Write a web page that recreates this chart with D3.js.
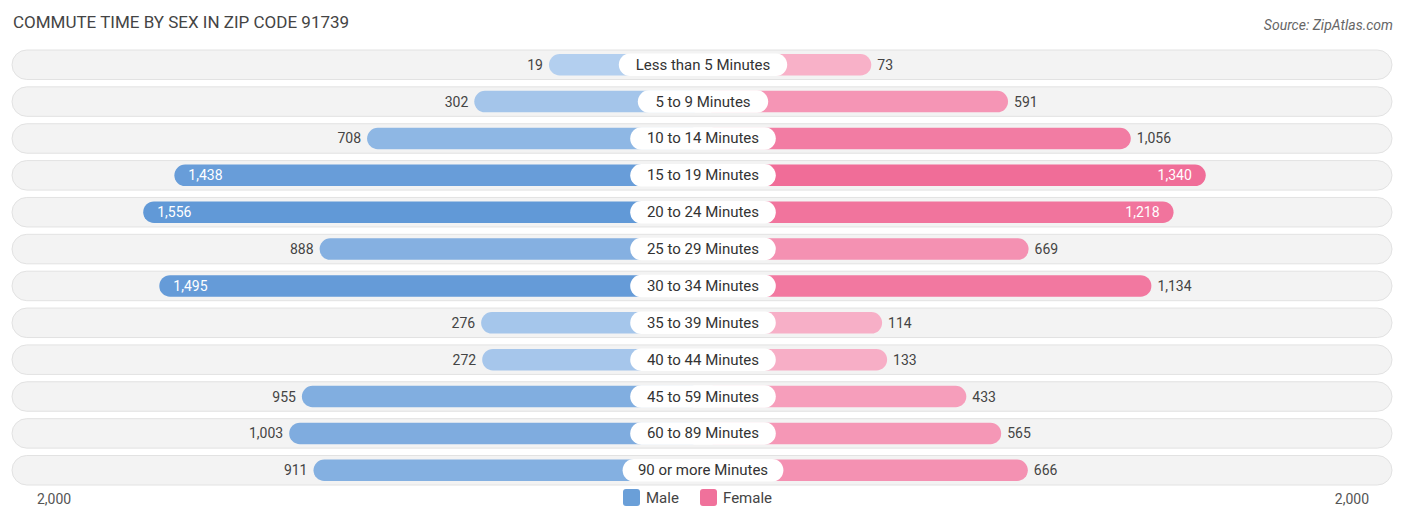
<!DOCTYPE html>
<html><head><meta charset="utf-8">
<script src="https://cdn.jsdelivr.net/npm/d3@7"></script>
<style>body{margin:0;background:#fff;font-family:Roboto,"Open Sans",sans-serif}</style>
</head><body><svg id="c" width="1406" height="523"></svg>
<script>
const categories = ["Less than 5 Minutes","5 to 9 Minutes","10 to 14 Minutes","15 to 19 Minutes","20 to 24 Minutes","25 to 29 Minutes","30 to 34 Minutes","35 to 39 Minutes","40 to 44 Minutes","45 to 59 Minutes","60 to 89 Minutes","90 or more Minutes"]
const male = [19,302,708,1438,1556,888,1495,276,272,955,1003,911]
const female = [73,591,1056,1340,1218,669,1134,114,133,433,565,666]
const axisMax = 2000

const svg = d3.select("#c")
const cx = 703, pad = 149
const len = d3.scaleLinear().domain([0, axisMax]).range([pad, 677])
const y = d3.scaleBand().domain(categories).range([50, 485]).paddingInner(0.2)
const maleCol = d3.scaleLinear().domain([0, 1600]).range(["#b4d0ef", "#5f97d6"])
const femCol = d3.scaleLinear().domain([0, 1400]).range(["#f8b5cb", "#f06a96"])

svg.append("text").attr("x", 13).attr("y", 28).attr("font-size", 17).attr("fill", "#444")
  .text("COMMUTE TIME BY SEX IN ZIP CODE 91739")
svg.append("text").attr("x", 1393).attr("y", 30).attr("text-anchor", "end").attr("font-size", 14)
  .attr("font-style", "italic").attr("fill", "#666").text("Source: ZipAtlas.com")

const row = svg.selectAll("g.row").data(categories).enter().append("g")
  .attr("transform", d => `translate(0,${y(d)})`)
const h = y.bandwidth()
row.append("rect").attr("x", 12).attr("width", 1380).attr("height", h).attr("rx", h / 2)
  .attr("fill", "#f3f3f3").attr("stroke", "#e2e2e2")
const bh = h - 8
row.append("rect").attr("x", (d, i) => cx - len(male[i])).attr("y", 4)
  .attr("width", (d, i) => len(male[i])).attr("height", bh).attr("rx", bh / 2)
  .attr("fill", (d, i) => maleCol(male[i]))
row.append("rect").attr("x", cx).attr("y", 4)
  .attr("width", (d, i) => len(female[i])).attr("height", bh).attr("rx", bh / 2)
  .attr("fill", (d, i) => femCol(female[i]))
row.append("rect").attr("x", d => cx - (d.length * 7.6 + 24) / 2).attr("y", 3.5)
  .attr("width", d => d.length * 7.6 + 24).attr("height", bh + 1).attr("rx", (bh + 1) / 2).attr("fill", "#fff")
row.append("text").attr("x", cx).attr("y", h / 2 + 5).attr("text-anchor", "middle")
  .attr("font-size", 15).attr("fill", "#333").text(d => d)

const fmt = d3.format(",")
row.append("text").attr("y", h / 2 + 5).attr("font-size", 14)
  .each(function (d, i) {
    const v = male[i], inside = v > 1200, t = d3.select(this)
    t.attr("x", inside ? cx - len(v) + 14 : cx - len(v) - 6)
      .attr("text-anchor", inside ? "start" : "end")
      .attr("fill", inside ? "#fff" : "#444").text(fmt(v))
  })
row.append("text").attr("y", h / 2 + 5).attr("font-size", 14)
  .each(function (d, i) {
    const v = female[i], inside = v > 1200, t = d3.select(this)
    t.attr("x", inside ? cx + len(v) - 14 : cx + len(v) + 6)
      .attr("text-anchor", inside ? "end" : "start")
      .attr("fill", inside ? "#fff" : "#444").text(fmt(v))
  })

svg.append("text").attr("x", 37).attr("y", 504).attr("font-size", 14).attr("fill", "#555").text(fmt(axisMax))
svg.append("text").attr("x", 1369).attr("y", 504).attr("text-anchor", "end").attr("font-size", 14).attr("fill", "#555").text(fmt(axisMax))

const leg = [["Male", "#6a9fd8", 623], ["Female", "#f0719b", 700]]
leg.forEach(([n, c, x]) => {
  svg.append("rect").attr("x", x).attr("y", 489).attr("width", 17).attr("height", 17).attr("rx", 3).attr("fill", c)
  svg.append("text").attr("x", x + 23).attr("y", 503).attr("font-size", 15).attr("fill", "#444").text(n)
})
</script></body></html>
